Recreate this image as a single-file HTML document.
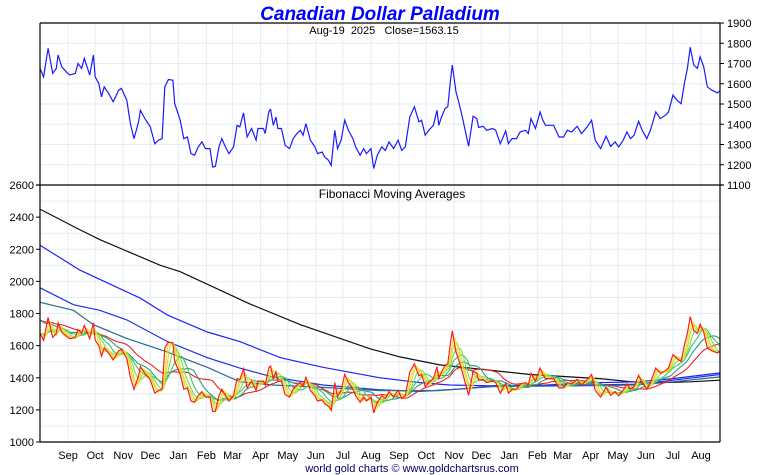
<!DOCTYPE html>
<html><head><meta charset="utf-8"><style>
html,body{margin:0;padding:0;background:#fff;}
svg{display:block;font-family:"Liberation Sans",Arial,sans-serif;}
</style></head><body>
<svg id="chart" width="760" height="475" viewBox="0 0 760 475" xmlns="http://www.w3.org/2000/svg">
<rect x="0" y="0" width="760" height="475" fill="#fff"/>
<g id="grid"></g>
<g id="marks"></g>
<g id="axes"></g>
<text x="380" y="20" text-anchor="middle" font-size="19" font-weight="bold" font-style="italic" fill="#0000ff">Canadian Dollar Palladium</text>
<text x="384" y="34" text-anchor="middle" font-size="11" fill="#000" xml:space="preserve">Aug-19  2025   Close=1563.15</text>
<text x="392" y="198" text-anchor="middle" font-size="12" fill="#000">Fibonacci Moving Averages</text>
<text x="412" y="472" text-anchor="middle" font-size="11" fill="#000066">world gold charts © www.goldchartsrus.com</text>
</svg>
<script>
// ---- data (calendar days from 2023-08-01, close in CAD) ----
const days = [0,4,9,14,18,20,24,29,33,39,42,46,49,52,55,59,61,65,68,71,76,81,87,90,96,100,104,109,111,116,122,127,131,135,138,142,147,149,155,159,163,167,171,175,179,183,188,191,194,198,201,205,209,214,218,221,225,229,234,239,241,247,249,253,254,255,258,261,263,267,271,276,280,284,288,291,294,299,304,307,312,315,319,322,326,329,333,337,341,346,349,354,358,361,366,369,373,378,382,386,391,396,400,404,409,414,419,422,426,430,435,439,441,444,448,451,454,456,460,463,467,474,479,483,485,490,494,500,503,504,509,515,518,522,527,531,537,540,543,548,553,556,559,563,568,574,579,583,588,594,599,605,610,614,620,626,631,636,640,645,649,653,657,662,666,671,675,681,686,692,695,700,705,709,713,716,719,723,727,730,734,738,743,749,752];
const closes = [1676,1634,1775,1651,1676,1742,1684,1659,1643,1651,1700,1676,1725,1684,1643,1742,1634,1601,1535,1585,1552,1511,1568,1577,1519,1403,1329,1412,1469,1428,1387,1304,1321,1329,1585,1621,1618,1502,1420,1329,1337,1255,1247,1288,1313,1280,1280,1189,1192,1288,1329,1288,1255,1288,1395,1387,1456,1337,1379,1321,1379,1379,1354,1461,1469,1473,1395,1436,1379,1379,1296,1280,1329,1354,1370,1346,1403,1321,1288,1255,1263,1238,1222,1197,1370,1280,1321,1420,1370,1329,1288,1247,1280,1255,1280,1181,1247,1288,1271,1313,1280,1321,1271,1288,1436,1486,1412,1420,1346,1370,1395,1469,1395,1436,1478,1486,1618,1692,1560,1511,1436,1291,1440,1428,1384,1390,1370,1379,1374,1370,1304,1367,1304,1329,1329,1362,1370,1354,1428,1379,1461,1420,1395,1395,1395,1337,1337,1370,1362,1390,1354,1387,1420,1321,1280,1341,1291,1313,1288,1321,1362,1329,1346,1415,1370,1329,1370,1461,1428,1445,1461,1544,1516,1502,1610,1676,1780,1692,1676,1733,1684,1585,1568,1555,1565];
const priorAvg = 1760;
// long moving averages (day, value)
const ma377Days = [0,41,66,133,155,232,288,365,398,442,542,619,664,686,719,752];
const ma377 = [2450,2330,2260,2100,2060,1860,1730,1580,1530,1480,1420,1395,1370,1370,1375,1385];
const ma233Days = [0,44,111,141,185,221,266,313,376,420,453,500,560,620,660,700,752];
const ma233 = [2225,2070,1895,1790,1685,1625,1525,1465,1400,1370,1355,1350,1355,1370,1375,1395,1430];
const ma144Days = [0,37,66,96,141,185,221,257,313,376,420,465,500,600,660,700,752];
const ma144 = [1960,1855,1820,1760,1625,1525,1460,1405,1355,1325,1315,1330,1350,1355,1360,1385,1420];
const ma89Days = [0,37,59,96,141,185,221,257,313,376,440,500,600,660,700,752];
const ma89 = [1870,1820,1730,1645,1560,1465,1375,1355,1340,1320,1320,1345,1350,1355,1375,1405];
const fibLengths = [5,8,13,21,34,55];
const fibColors = ['#f0e020','#c8e030','#80d850','#40c060','#2a9a7a','#ee2020'];
const topTicks = [1100,1200,1300,1400,1500,1600,1700,1800,1900];
const botTicks = [1000,1200,1400,1600,1800,2000,2200,2400,2600];
const monthNames = ['Jan','Feb','Mar','Apr','May','Jun','Jul','Aug','Sep','Oct','Nov','Dec'];

// ---- scales ----
const X0=40,X1=720,TOTAL=752;
const TY0=23,TY1=185,TMIN=1100,TMAX=1900;
const BY0=185,BY1=442,BMIN=1000,BMAX=2600;
const xs=d=>X0+(d/TOTAL)*(X1-X0);
const yTop=v=>TY1-(v-TMIN)/(TMAX-TMIN)*(TY1-TY0);
const yBot=v=>BY1-(v-BMIN)/(BMAX-BMIN)*(BY1-BY0);
const NS='http://www.w3.org/2000/svg';
function mk(tag,attrs,parent){const e=document.createElementNS(NS,tag);for(const k in attrs)e.setAttribute(k,attrs[k]);parent.appendChild(e);return e;}
const grid=document.getElementById('grid'),marks=document.getElementById('marks'),axes=document.getElementById('axes');

// daily interpolation
function interp(ds,vs){const out=[];for(let d=0;d<=TOTAL;d++){let i=0;while(i<ds.length-2&&ds[i+1]<d)i++;const a=ds[i],b=ds[i+1];const t=Math.max(0,Math.min(1,(d-a)/(b-a)));out.push(vs[i]+(vs[i+1]-vs[i])*t);}return out;}
const daily=interp(days,closes);

// grid
for(let v=1100;v<=1900;v+=100){const g=mk('line',{x1:X0,x2:X1,y1:yTop(v),y2:yTop(v),stroke:'#e2eef8','stroke-width':1},grid);

}
for(let v=1000;v<=2600;v+=100){const g=mk('line',{x1:X0,x2:X1,y1:yBot(v),y2:yBot(v),stroke:'#e2eef8','stroke-width':1},grid);

}
const start=new Date(Date.UTC(2023,7,1));
for(let m=1;m<=24;m++){const dt=new Date(Date.UTC(2023,7+m,1));const d=(dt-start)/86400000;if(d>TOTAL)break;const x=xs(d);
const g=mk('line',{x1:x,x2:x,y1:TY0,y2:BY1,stroke:'#e2eef8','stroke-width':1},grid);


const t=mk('text',{x:x,y:459,'text-anchor':'middle','font-size':11,fill:'#000'},axes);t.textContent=monthNames[dt.getUTCMonth()];

}

function path(arrD,arrV,yf){return arrV.map((v,i)=>(i?'L':'M')+xs(arrD[i]).toFixed(1)+','+yf(v).toFixed(1)).join('');}
// top price
const tp=mk('path',{d:path(days,closes,yTop),fill:'none',stroke:'#1a1aff','stroke-width':1.2},marks);



// long MAs
[[ma377Days,ma377,'#111','ma-377'],[ma233Days,ma233,'#2020ff','ma-233'],[ma144Days,ma144,'#2030ee','ma-144'],[ma89Days,ma89,'#2a6a8a','ma-89']].forEach(s=>{
const p=mk('path',{d:path(s[0],s[1],yBot),fill:'none',stroke:s[2],'stroke-width':1.2},marks);

});

// short fib MAs computed from daily closes
const dayIdx=daily.map((v,i)=>i);
fibLengths.slice().reverse().forEach((n,ri)=>{const ci=fibLengths.length-1-ri;const ma=daily.map((v,i)=>{let s=0;for(let k=i-n+1;k<=i;k++)s+=k<0?priorAvg*(n>21?1:0)+(n>21?0:daily[0]):daily[k];return s/n;});
const p=mk('path',{d:path(dayIdx,ma,yBot),fill:'none',stroke:fibColors[ci],'stroke-width':1.1},marks);

});
const bp=mk('path',{d:path(days,closes,yBot),fill:'none',stroke:'#ff1a1a','stroke-width':1.2},marks);



// axes frame
[[X0,TY0,X1,TY0],[X0,TY0,X0,BY1],[X1,TY0,X1,BY1],[X0,BY1,X1,BY1],[X0-4,BY0,X1+4,BY0]].forEach(l=>{const e=mk('line',{x1:l[0],y1:l[1],x2:l[2],y2:l[3],stroke:'#000','stroke-width':1.2},axes);

});
topTicks.forEach(v=>{const y=yTop(v);const e=mk('line',{x1:X1,x2:X1+4,y1:y,y2:y,stroke:'#000'},axes);


const t=mk('text',{x:X1+7,y:y+4,'font-size':11,fill:'#000'},axes);t.textContent=v;

});
botTicks.forEach(v=>{const y=yBot(v);const e=mk('line',{x1:X0-4,x2:X0,y1:y,y2:y,stroke:'#000'},axes);


const t=mk('text',{x:X0-6,y:y+4,'font-size':11,'text-anchor':'end',fill:'#000'},axes);t.textContent=v;

});
</script>
</body></html>
